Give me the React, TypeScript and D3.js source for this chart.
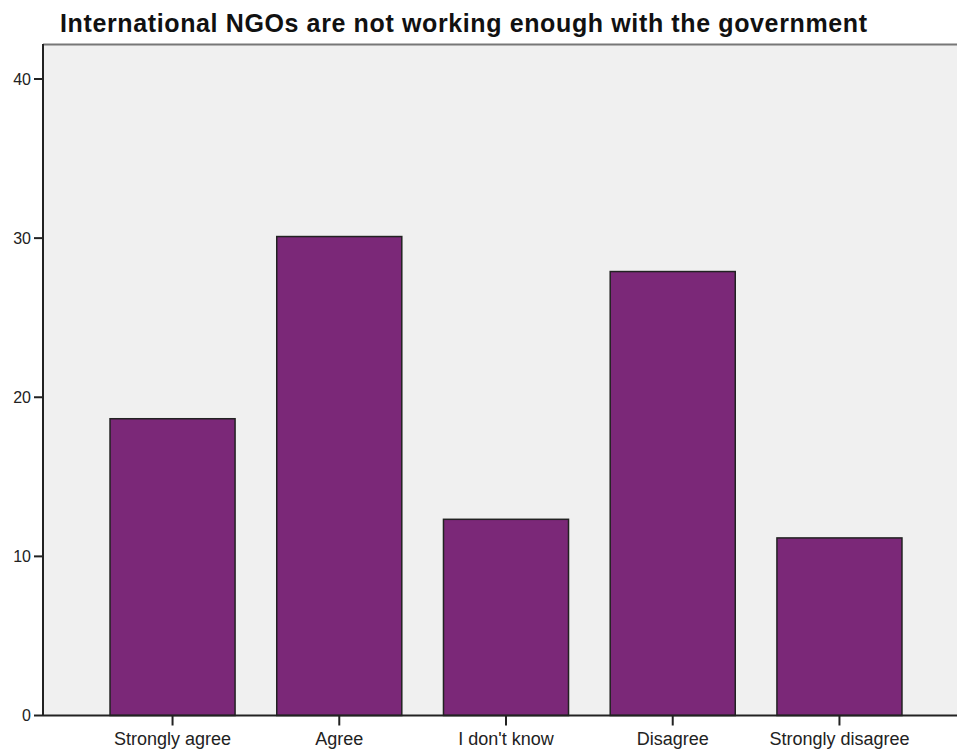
import React from "react";
import * as d3 from "d3";

const categories = ["Strongly agree", "Agree", "I don't know", "Disagree", "Strongly disagree"];
const values = [18.65, 30.1, 12.33, 27.9, 11.16];
const yTicks = [0, 10, 20, 30, 40];
const title = "International NGOs are not working enough with the government";

const W = 957;
const H = 749;
const left = 43;
const top = 44;
const bottom = 715.5;
const rightRange = 969;

export default function App() {
  const x = d3
    .scaleBand<string>()
    .domain(categories)
    .range([left, rightRange])
    .paddingInner(0.25)
    .paddingOuter(0.402);
  const y = d3.scaleLinear().domain([0, 42.2]).range([bottom, top]);
  const font = "'Liberation Sans', Arial, sans-serif";
  return (
    <svg
      width={W}
      height={H}
      style={{ position: "absolute", left: 0, top: 0, background: "#fff" }}
    >
      <rect x={left} y={top} width={W - left} height={bottom - top} fill="#f0f0f0" />
      <line x1={left} x2={W} y1={top + 0.5} y2={top + 0.5} stroke="#777" strokeWidth={2} />
      {categories.map((c, i) => (
        <rect
          key={c}
          x={x(c)!}
          y={y(values[i])}
          width={x.bandwidth()}
          height={bottom - y(values[i])}
          fill="#7b2878"
          stroke="#222"
          strokeWidth={1.5}
        />
      ))}
      <line x1={left} x2={left} y1={top} y2={bottom} stroke="#222" strokeWidth={2} />
      <line x1={left} x2={W} y1={bottom} y2={bottom} stroke="#222" strokeWidth={2} />
      {yTicks.map((t) => (
        <g key={t}>
          <line x1={left - 9} x2={left} y1={y(t)} y2={y(t)} stroke="#222" strokeWidth={2} />
          <text
            x={left - 12}
            y={y(t)}
            dy="0.36em"
            textAnchor="end"
            fontFamily={font}
            fontSize={16}
            fill="#222"
          >
            {t}
          </text>
        </g>
      ))}
      {categories.map((c) => {
        const cx = x(c)! + x.bandwidth() / 2;
        return (
          <g key={c}>
            <line x1={cx} x2={cx} y1={bottom} y2={bottom + 10} stroke="#222" strokeWidth={2} />
            <text
              x={cx}
              y={745}
              textAnchor="middle"
              fontFamily={font}
              fontSize={18}
              fill="#222"
            >
              {c}
            </text>
          </g>
        );
      })}
      <text
        x={60}
        y={32}
        fontFamily={font}
        fontSize={25}
        fontWeight="bold"
        fill="#111"
        textLength={807}
        lengthAdjust="spacing"
      >
        {title}
      </text>
    </svg>
  );
}
